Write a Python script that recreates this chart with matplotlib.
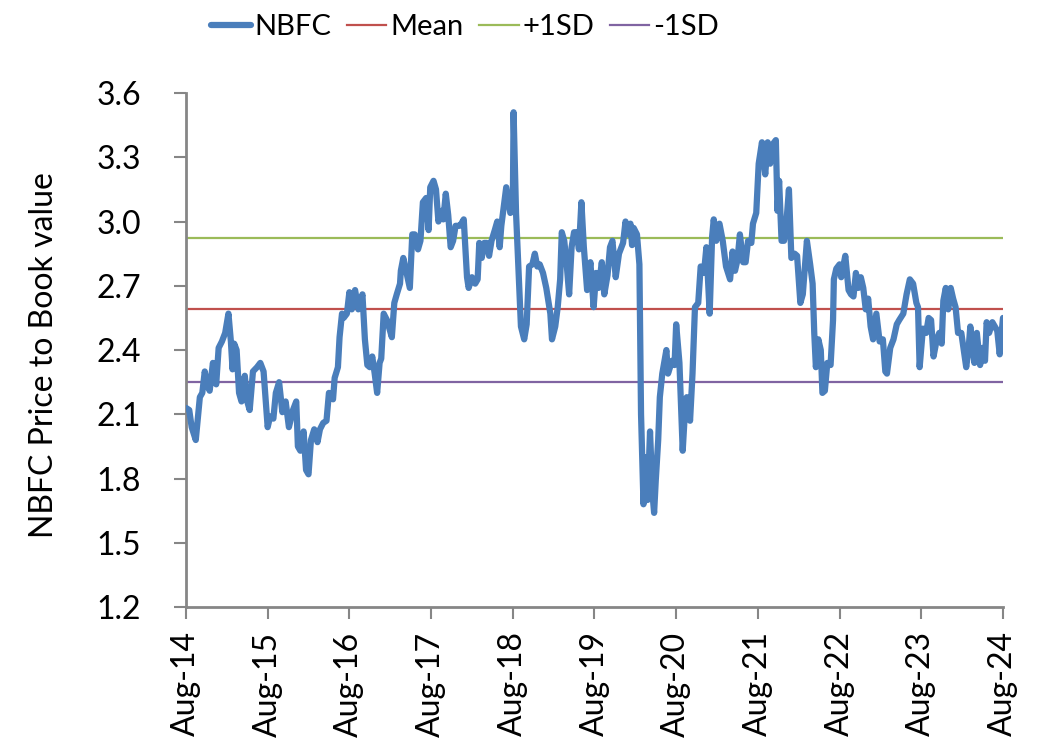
import numpy as np
import matplotlib.pyplot as plt

# time in years since Aug-2014, NBFC price-to-book
years = [0.00, 0.04, 0.07, 0.12, 0.17, 0.20, 0.23, 0.26, 0.29, 0.33,
         0.37, 0.40, 0.44, 0.48, 0.52, 0.55, 0.57, 0.59, 0.62, 0.65,
         0.68, 0.72, 0.75, 0.78, 0.82, 0.87, 0.91, 0.95, 1.00, 1.03,
         1.07, 1.10, 1.14, 1.18, 1.22, 1.26, 1.31, 1.35, 1.37, 1.40,
         1.44, 1.47, 1.50, 1.53, 1.57, 1.61, 1.64, 1.68, 1.72, 1.75,
         1.80, 1.82, 1.86, 1.88, 1.91, 1.93, 1.97, 2.00, 2.03, 2.07,
         2.11, 2.16, 2.19, 2.22, 2.25, 2.28, 2.31, 2.34, 2.37, 2.39,
         2.42, 2.46, 2.52, 2.55, 2.58, 2.62, 2.63, 2.66, 2.70, 2.74,
         2.77, 2.80, 2.84, 2.87, 2.90, 2.94, 2.97, 2.99, 3.03, 3.06,
         3.09, 3.13, 3.15, 3.18, 3.21, 3.24, 3.27, 3.30, 3.35, 3.37,
         3.40, 3.44, 3.46, 3.50, 3.54, 3.57, 3.59, 3.62, 3.65, 3.68,
         3.71, 3.74, 3.78, 3.81, 3.84, 3.86, 3.92, 3.97, 4.00, 4.01,
         4.04, 4.07, 4.10, 4.14, 4.17, 4.20, 4.24, 4.27, 4.30, 4.33,
         4.37, 4.41, 4.46, 4.48, 4.52, 4.55, 4.58, 4.60, 4.63, 4.66,
         4.69, 4.72, 4.75, 4.78, 4.81, 4.84, 4.87, 4.91, 4.95, 4.99,
         5.02, 5.05, 5.09, 5.12, 5.16, 5.19, 5.22, 5.26, 5.30, 5.35,
         5.38, 5.41, 5.44, 5.46, 5.48, 5.52, 5.55, 5.57, 5.60, 5.63,
         5.65, 5.68, 5.71, 5.73, 5.75, 5.78, 5.80, 5.83, 5.88, 5.90,
         5.95, 5.98, 6.00, 6.04, 6.08, 6.11, 6.13, 6.17, 6.20, 6.23,
         6.27, 6.30, 6.34, 6.37, 6.41, 6.44, 6.46, 6.49, 6.53, 6.57,
         6.61, 6.66, 6.69, 6.72, 6.75, 6.78, 6.82, 6.85, 6.88, 6.92,
         6.94, 6.98, 7.01, 7.05, 7.09, 7.12, 7.15, 7.18, 7.22, 7.24,
         7.26, 7.29, 7.32, 7.34, 7.38, 7.41, 7.45, 7.48, 7.52, 7.55,
         7.60, 7.64, 7.67, 7.69, 7.71, 7.74, 7.77, 7.79, 7.82, 7.85,
         7.89, 7.92, 7.93, 7.96, 8.00, 8.02, 8.07, 8.11, 8.14, 8.17,
         8.20, 8.23, 8.26, 8.29, 8.32, 8.35, 8.38, 8.41, 8.45, 8.49,
         8.53, 8.56, 8.58, 8.62, 8.66, 8.70, 8.73, 8.78, 8.82, 8.86,
         8.90, 8.94, 8.96, 8.98, 9.02, 9.06, 9.09, 9.12, 9.15, 9.19,
         9.22, 9.25, 9.27, 9.30, 9.33, 9.36, 9.39, 9.42, 9.45, 9.49,
         9.55, 9.58, 9.60, 9.65, 9.68, 9.72, 9.75, 9.78, 9.80, 9.83,
         9.87, 9.90, 9.93, 9.96, 10.00]

nbfc_pb = [2.13, 2.12, 2.04, 1.98, 2.18, 2.20, 2.30, 2.24, 2.21, 2.34,
           2.24, 2.41, 2.44, 2.48, 2.57, 2.44, 2.31, 2.43, 2.40, 2.20,
           2.16, 2.28, 2.16, 2.12, 2.30, 2.32, 2.34, 2.30, 2.04, 2.09,
           2.08, 2.20, 2.25, 2.11, 2.16, 2.04, 2.12, 2.16, 1.95, 1.93,
           2.02, 1.84, 1.82, 1.98, 2.03, 1.97, 2.03, 2.06, 2.07, 2.20,
           2.17, 2.27, 2.32, 2.46, 2.57, 2.55, 2.57, 2.67, 2.59, 2.68,
           2.59, 2.66, 2.45, 2.33, 2.32, 2.37, 2.29, 2.20, 2.34, 2.36,
           2.57, 2.54, 2.46, 2.62, 2.66, 2.71, 2.77, 2.83, 2.76, 2.69,
           2.94, 2.94, 2.87, 2.91, 3.09, 3.11, 2.96, 3.16, 3.19, 3.15,
           3.00, 3.05, 3.01, 3.13, 3.03, 2.88, 2.91, 2.98, 2.98, 2.99,
           3.01, 2.74, 2.69, 2.74, 2.71, 2.73, 2.90, 2.83, 2.90, 2.90,
           2.84, 2.91, 2.96, 3.00, 2.88, 2.98, 3.16, 3.04, 3.05, 3.51,
           3.04, 2.77, 2.51, 2.45, 2.52, 2.79, 2.80, 2.85, 2.79, 2.80,
           2.76, 2.69, 2.57, 2.45, 2.51, 2.60, 2.73, 2.95, 2.91, 2.80,
           2.66, 2.88, 2.95, 2.95, 2.87, 3.09, 2.88, 2.68, 2.81, 2.60,
           2.76, 2.69, 2.81, 2.66, 2.75, 2.88, 2.91, 2.74, 2.85, 2.90,
           3.00, 2.94, 2.99, 2.89, 2.97, 2.94, 2.80, 2.10, 1.68, 1.90,
           1.70, 2.02, 1.73, 1.64, 1.79, 1.98, 2.18, 2.29, 2.40, 2.29,
           2.35, 2.33, 2.52, 2.34, 1.93, 2.13, 2.18, 2.07, 2.29, 2.60,
           2.62, 2.79, 2.76, 2.88, 2.57, 2.93, 3.01, 2.91, 2.99, 2.91,
           2.79, 2.73, 2.86, 2.77, 2.82, 2.94, 2.81, 2.81, 2.91, 2.90,
           2.99, 3.04, 3.27, 3.37, 3.22, 3.37, 3.27, 3.36, 3.38, 3.05,
           3.19, 2.91, 2.91, 2.95, 3.15, 2.83, 2.85, 2.84, 2.62, 2.66,
           2.91, 2.80, 2.71, 2.48, 2.32, 2.45, 2.40, 2.20, 2.21, 2.34,
           2.33, 2.54, 2.73, 2.78, 2.80, 2.74, 2.84, 2.68, 2.66, 2.65,
           2.76, 2.69, 2.74, 2.69, 2.59, 2.64, 2.51, 2.45, 2.57, 2.44,
           2.45, 2.30, 2.29, 2.41, 2.45, 2.52, 2.54, 2.57, 2.66, 2.73,
           2.71, 2.62, 2.60, 2.32, 2.50, 2.48, 2.55, 2.54, 2.37, 2.45,
           2.48, 2.43, 2.63, 2.69, 2.59, 2.69, 2.64, 2.60, 2.48, 2.48,
           2.32, 2.41, 2.51, 2.34, 2.48, 2.33, 2.41, 2.35, 2.53, 2.48,
           2.53, 2.51, 2.49, 2.38, 2.55]

mean_pb = 2.59
plus_sd = 2.925
minus_sd = 2.25

tick_years = list(range(11))
tick_labels = ['Aug-14', 'Aug-15', 'Aug-16', 'Aug-17', 'Aug-18', 'Aug-19',
               'Aug-20', 'Aug-21', 'Aug-22', 'Aug-23', 'Aug-24']

plt.rcParams['font.family'] = ['Lato', 'DejaVu Sans']

fig = plt.figure(figsize=(10.59, 7.44), dpi=100)
ax = fig.add_axes([0.1756, 0.184, 0.7715, 0.691])

ax.plot(years, nbfc_pb, color='#4a7ebb', linewidth=4.5, label='NBFC',
        solid_joinstyle='round', solid_capstyle='round', zorder=3)
ax.axhline(mean_pb, color='#c0504d', linewidth=1.6, label='Mean', zorder=2)
ax.axhline(plus_sd, color='#9bbb59', linewidth=1.6, label='+1SD', zorder=2)
ax.axhline(minus_sd, color='#8064a2', linewidth=1.6, label='-1SD', zorder=2)

ax.set_xlim(0, 10)
ax.set_ylim(1.2, 3.6)
ax.set_yticks(np.arange(1.2, 3.61, 0.3))
ax.set_yticklabels([f'{v:.1f}' for v in np.arange(1.2, 3.61, 0.3)])
ax.set_xticks(tick_years)
ax.set_xticklabels(tick_labels, rotation=90)

for side in ['top', 'right']:
    ax.spines[side].set_visible(False)
for side in ['left', 'bottom']:
    ax.spines[side].set_color('#868686')
    ax.spines[side].set_linewidth(2)

ax.tick_params(axis='y', direction='out', length=8.5, width=1.5, color='#868686',
               labelsize=23, pad=24)
ax.tick_params(axis='x', direction='out', length=8.5, width=1.5, color='#868686',
               labelsize=23, pad=9)

ax.set_ylabel('NBFC Price to Book value', fontsize=23)
ax.yaxis.set_label_coords(-0.155, 0.49)

fig.legend(loc='center', bbox_to_anchor=(0.439, 0.964), ncol=4, frameon=False,
           fontsize=21, handlelength=1.35, handletextpad=0.12, columnspacing=0.55)

fig.savefig('out.png', dpi=100)
